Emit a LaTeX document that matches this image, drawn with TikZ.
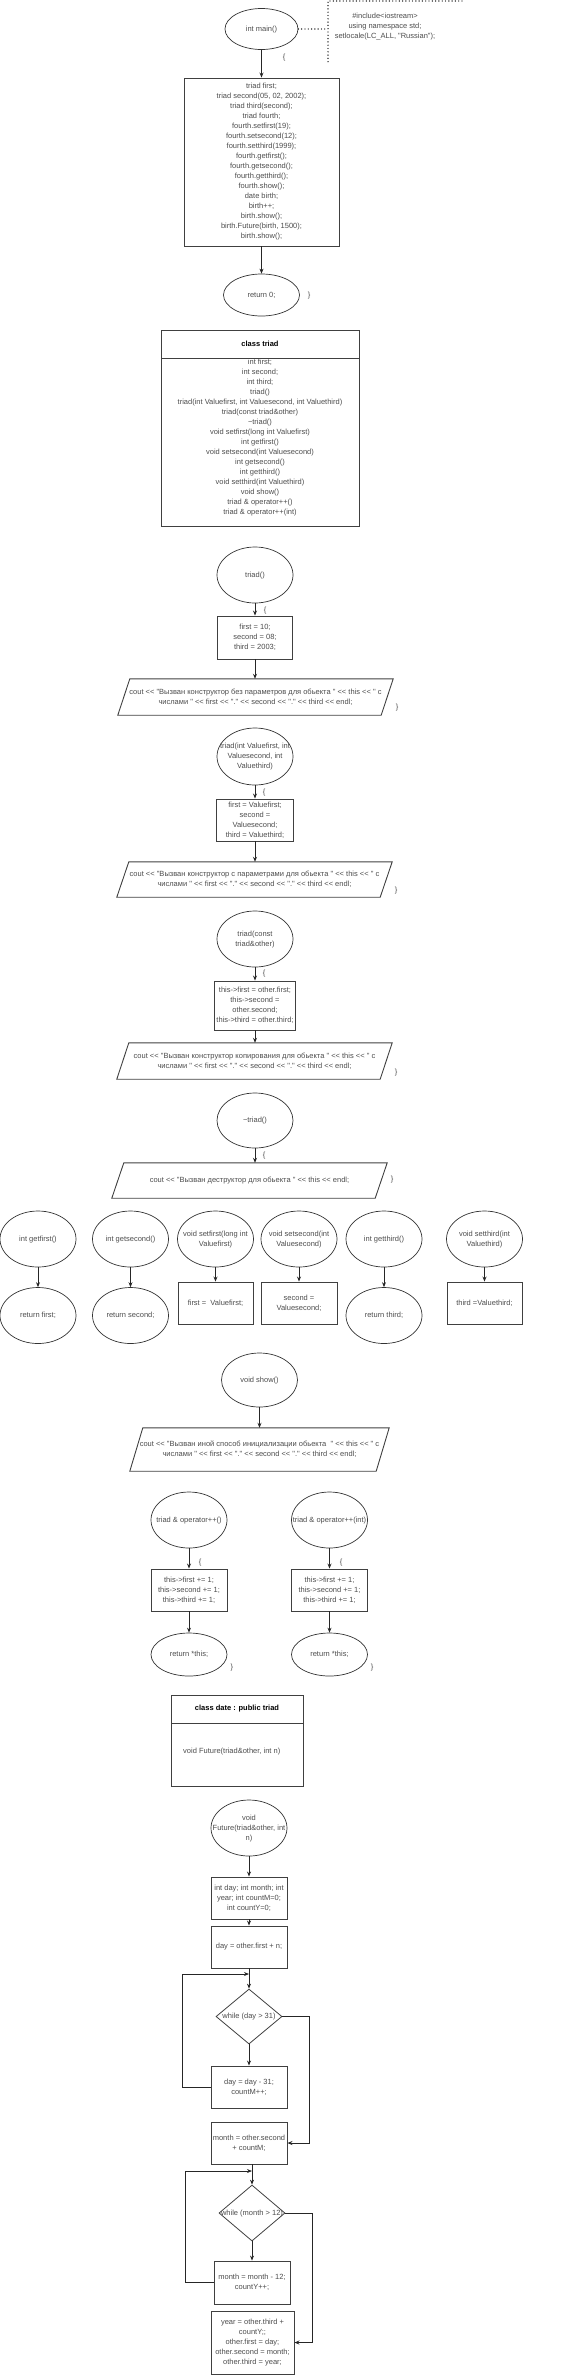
\documentclass[tikz,border=0pt]{standalone}
\usepackage{fontspec}
\newfontfamily\dio{Liberation Sans}
\usetikzlibrary{shapes.geometric,arrows.meta}

%% text that may be wider than its oval
\newcommand{\inoval}[1]{\makebox[0pt]{\begin{tabular}{@{}c@{}}#1\end{tabular}}}
%% parallelogram round an io node
\newcommand{\ioshape}[2]{\draw[black!75, line width=0.9pt] ([xshift=#2]#1.north west) -- (#1.north east) -- ([xshift=-#2]#1.south east) -- (#1.south west) -- cycle;}

\tikzset{
  ink/.style={text=black!70, font=\dio\fontsize{7.5}{10}\selectfont, inner sep=0pt},
  txt/.style={ink, align=center},
  oval/.style={ink, draw=black!80, line width=0.7pt, ellipse, minimum width=76pt, minimum height=56pt},
  block/.style={txt, draw=black!75, line width=0.9pt, rectangle, minimum width=76pt, minimum height=42pt},
  cond/.style={ink, draw=black!75, line width=0.8pt, diamond, minimum width=66pt, minimum height=55pt},
  io/.style={txt, minimum width=275pt, minimum height=36pt},
  head/.style={block, text=black, font=\dio\bfseries\fontsize{7.5}{10}\selectfont, minimum height=28pt},
  arr/.style={draw=black!85, line width=0.8pt, -{Stealth[length=5pt,width=4pt]}},
  dots/.style={draw=black, line width=1.4pt, line cap=round, dash pattern=on 0pt off 3.3pt},
}

\begin{document}
\begin{tikzpicture}[x=1pt,y=-1pt]
\useasboundingbox (0,0) rectangle (580,2375);

%% main
\node[oval, minimum width=73pt, minimum height=41pt] (main) at (261.5,29) {\inoval{int main()}};
\node[txt] (inc) at (385,27) {\#include<iostream>\\using namespace std;\\setlocale(LC\_ALL, "Russian");};
\coordinate (brk) at (328,29);
\draw[dots] (main.east) -- (brk);
\draw[dots] (462,1) -- (328,1) -- (328,63);
\node[ink] (ob0) at (284,58) {\{};
\node[block, minimum width=155pt, minimum height=168pt] (code) at (261.5,162) {triad first;\\triad second(05, 02, 2002);\\triad third(second);\\triad fourth;\\fourth.setfirst(19);\\fourth.setsecond(12);\\fourth.setthird(1999);\\fourth.getfirst();\\fourth.getsecond();\\fourth.getthird();\\fourth.show();\\date birth;\\birth++;\\birth.show();\\birth.Future(birth, 1500);\\birth.show();};
\node[oval, minimum height=42pt] (ret) at (261.5,295) {\inoval{return 0;}};
\node[ink] (cb0) at (309,296) {\}};
\draw[arr] (main) -- (code);
\draw[arr] (code) -- (ret);

%% class triad
\node[head, minimum width=198pt] (cls) at (260,344) {class triad};
\node[block, minimum width=198pt, minimum height=168pt] (clsb) at (260,442) {};
\node[txt] (memb) at (260,438) {int first;\\int second;\\int third;\\triad()\\triad(int Valuefirst, int Valuesecond, int Valuethird)\\triad(const triad\&other)\\\textasciitilde triad()\\void setfirst(long int Valuefirst)\\int getfirst()\\void setsecond(int Valuesecond)\\int getsecond()\\int getthird()\\void setthird(int Valuethird)\\void show()\\triad \& operator++()\\triad \& operator++(int)};

%% triad()
\node[oval] (c1) at (255,575) {\inoval{triad()}};
\node[ink] (ob1) at (265,611) {\{};
\node[block, minimum width=75pt, minimum height=43pt] (c1a) at (255,637.5) {first = 10;\\second = 08;\\third = 2003;};
\node[io] (c1b) at (255.5,697) {cout << "Вызван конструктор без параметров для обьекта " << this << " с\\числами " << first << "." << second << "." << third << endl;};
\ioshape{c1b}{12pt}
\node[ink] (cb1) at (397,708) {\}};
\draw[arr] (c1) -- (c1a);
\draw[arr] (c1a) -- (c1a |- c1b.north);

%% triad(int, int, int)
\node[oval, minimum height=57pt] (c2) at (255,756.5) {\inoval{triad(int Valuefirst, int\\Valuesecond, int\\Valuethird)}};
\node[ink] (ob2) at (264,793) {\{};
\node[block, minimum width=77pt] (c2a) at (255,820) {first = Valuefirst;\\second =\\Valuesecond;\\third = Valuethird;};
\node[io, minimum height=35pt] (c2b) at (254.5,879.5) {cout << "Вызван конструктор с параметрами для обьекта " << this << " с\\числами " << first << "." << second << "." << third << endl;};
\ioshape{c2b}{12pt}
\node[ink] (cb2) at (396,891) {\}};
\draw[arr] (c2) -- (c2a);
\draw[arr] (c2a) -- (c2a |- c2b.north);

%% triad(const triad&)
\node[oval] (c3) at (255,939) {\inoval{triad(const\\triad\&other)}};
\node[ink] (ob3) at (264,974) {\{};
\node[block, minimum width=81pt, minimum height=49pt] (c3a) at (255,1005.5) {this->first = other.first;\\this->second =\\other.second;\\this->third = other.third;};
\node[io] (c3b) at (254.5,1061) {cout << "Вызван конструктор копирования для обьекта " << this << " с\\числами " << first << "." << second << "." << third << endl;};
\ioshape{c3b}{12pt}
\node[ink] (cb3) at (396,1073) {\}};
\draw[arr] (c3) -- (c3a);
\draw[arr] (c3a) -- (c3a |- c3b.north);

%% ~triad()
\node[oval, minimum height=55pt] (c4) at (255,1120.5) {\inoval{\textasciitilde triad()}};
\node[ink] (ob4) at (264,1156) {\{};
\node[io, minimum height=35pt] (c4b) at (249.5,1180.5) {cout << "Вызван деструктор для обьекта " << this << endl;};
\ioshape{c4b}{12pt}
\node[ink] (cb4) at (392,1180) {\}};
\draw[arr] (c4) -- (c4 |- c4b.north);

%% get / set
\node[oval] (g1) at (38,1239) {\inoval{int getfirst()}};
\node[oval] (r1) at (38,1315.5) {\inoval{return first;}};
\node[oval] (g2) at (130.5,1239) {\inoval{int getsecond()}};
\node[oval] (r2) at (130.5,1315.5) {\inoval{return second;}};
\node[oval] (s1) at (215.5,1239) {\inoval{void setfirst(long int\\Valuefirst)}};
\node[block, minimum width=75pt] (sb1) at (215.5,1303) {first =\ \ Valuefirst;};
\node[oval] (s2) at (299,1239) {\inoval{void setsecond(int\\Valuesecond)}};
\node[block] (sb2) at (299,1303) {second =\\Valuesecond;};
\node[oval] (g3) at (384,1239) {\inoval{int getthird()}};
\node[oval] (r3) at (384,1315.5) {\inoval{return third;}};
\node[oval] (s3) at (484.5,1239) {\inoval{void setthird(int\\Valuethird)}};
\node[block, minimum width=75pt] (sb3) at (484.5,1303) {third =Valuethird;};
\draw[arr] (g1) -- (r1);
\draw[arr] (g2) -- (r2);
\draw[arr] (s1) -- (sb1);
\draw[arr] (s2) -- (sb2);
\draw[arr] (g3) -- (r3);
\draw[arr] (s3) -- (sb3);

%% show()
\node[oval, minimum height=54pt] (sh) at (259.5,1380) {\inoval{void show()}};
\node[io, minimum width=259pt, minimum height=43pt] (shb) at (259.5,1449.5) {cout << "Вызван иной способ инициализации обьекта\ \ " << this << " с\\числами " << first << "." << second << "." << third << endl;};
\ioshape{shb}{13pt}
\draw[arr] (sh) -- (shb);

%% operator++
\node[oval] (op1) at (189,1520) {\inoval{triad \& operator++()}};
\node[oval] (op2) at (329.5,1520) {\inoval{triad \& operator++(int)}};
\node[ink] (ob5) at (200,1563) {\{};
\node[ink] (ob6) at (341,1563) {\{};
\node[block] (o1a) at (189,1590) {this->first += 1;\\this->second += 1;\\this->third += 1;};
\node[block] (o2a) at (329.5,1590) {this->first += 1;\\this->second += 1;\\this->third += 1;};
\node[oval, minimum height=43pt] (o1b) at (189,1654.5) {\inoval{return *this;}};
\node[oval, minimum height=43pt] (o2b) at (329.5,1654.5) {\inoval{return *this;}};
\node[ink] (cb5) at (232,1668) {\}};
\node[ink] (cb6) at (372,1668) {\}};
\draw[arr] (op1) -- (o1a);
\draw[arr] (o1a) -- (o1b);
\draw[arr] (op2) -- (o2a);
\draw[arr] (o2a) -- (o2b);

%% class date
\node[head, minimum width=132pt] (dat) at (237,1709) {class date : public triad};
\node[block, minimum width=132pt, minimum height=63pt] (datb) at (237,1754.5) {};
\node[ink, anchor=west] (fdecl) at (183,1752) {void Future(triad\&other, int n)};

%% Future()
\node[oval] (fut) at (249,1828) {\inoval{void\\Future(triad\&other, int\\n)}};
\node[block] (f1) at (249,1898) {int day; int month; int\\year; int countM=0;\\int countY=0;};
\node[block] (f2) at (249,1947) {day = other.first + n;};
\node[cond] (w1) at (249,2016.5) {\inoval{while (day > 31)}};
\node[block] (f3) at (249,2087) {day = day - 31;\\countM++;};
\node[block] (f4) at (249,2143) {month = other.second\\+ countM;};
\node[cond, minimum height=56pt] (w2) at (252,2213) {\inoval{while (month > 12)}};
\node[block, minimum height=43pt] (f5) at (252,2282.5) {month = month - 12;\\countY++;};
\node[block, minimum width=83pt, minimum height=63pt] (f6) at (252.5,2342.5) {year = other.third +\\countY;;\\other.first = day;\\other.second = month;\\other.third = year;};
\coordinate (j1) at (249,1974);
\coordinate (j2) at (252,2171);
\draw[arr] (fut) -- (f1);
\draw[arr] (f1) -- (f2);
\draw[arr] (f2) -- (w1);
\draw[arr] (w1) -- (f3);
\draw[arr] (f3.west) -- ++(-28,0) |- (j1);
\draw[arr] (w1.east) -- ++(27,0) |- (f4.east);
\draw[arr] (f4.south -| w2.north) -- (w2.north);
\draw[arr] (w2) -- (f5);
\draw[arr] (f5.west) -- ++(-28,0) |- (j2);
\draw[arr] (w2.east) -- ++(27,0) |- (f6.east);
\end{tikzpicture}
\end{document}
